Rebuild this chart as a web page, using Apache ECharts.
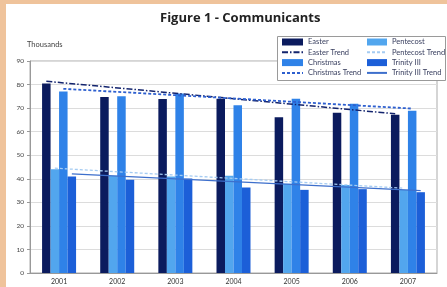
<!DOCTYPE html>
<html>
<head>
<meta charset="utf-8">
<title>Figure 1 - Communicants</title>
<script src="https://cdn.jsdelivr.net/npm/echarts@6/dist/echarts.min.js"></script>
<style>
html,body{margin:0;padding:0;background:#fff;}
#main{width:447px;height:287px;}
</style>
</head>
<body>
<div id="main"></div>
<script>
// 数据
var years = ['2001', '2002', '2003', '2004', '2005', '2006', '2007'];
var easter = [80.4, 74.7, 73.9, 74.0, 66.1, 68.0, 67.2];
var pentecost = [44.0, 41.3, 41.0, 41.3, 37.9, 37.4, 35.3];
var christmas = [77.0, 75.0, 76.2, 71.2, 74.0, 71.8, 68.9];
var trinity = [41.0, 39.6, 40.1, 36.3, 35.3, 35.6, 34.3];
// 趋势线 (2001, 2007)
var easterTrend = [81.4, 67.6];
var pentecostTrend = [44.5, 36.0];
var christmasTrend = [78.2, 69.8];
var trinityTrend = [42.1, 35.0];
var yTicks = [0, 10, 20, 30, 40, 50, 60, 70, 80, 90];

var gridL = 30, gridR = 10, barW = 8.5;
var catW = (447 - gridL - gridR) / years.length;

// 趋势线放在对应柱子的中心
function trend(vals, slot) {
    var off = (slot - 1.5) * barW / catW;
    return [[0 + off, vals[0]], [years.length - 1 + off, vals[1]]];
}

// 图例: 线不要画圆点, 柱子用直角方块
function lineItem(name) {
    return {name: name, itemStyle: {opacity: 0}};
}
function barItem(name) {
    return {name: name, icon: 'rect'};
}

var legendText = {fontSize: 7.5, lineHeight: 10, color: '#3a4060', fontFamily: 'Lato'};

var option = {
    animation: false,
    backgroundColor: '#fff',
    textStyle: {fontFamily: 'Lato'},
    title: {
        text: 'Figure 1 - Communicants',
        left: 160,
        top: 12,
        padding: 0,
        textStyle: {fontSize: 13, fontWeight: 'bold', color: '#222', fontFamily: 'Open Sans'}
    },
    graphic: [
        {type: 'rect', left: 0, top: 0, shape: {width: 447, height: 4}, style: {fill: '#EFC39B'}, z: 100},
        {type: 'rect', left: 0, top: 0, shape: {width: 6, height: 287}, style: {fill: '#EFC39B'}, z: 100},
        {type: 'text', left: 27, top: 41, style: {text: 'Thousands', fontSize: 7.5, fill: '#444', fontFamily: 'Lato'}},
        {type: 'rect', left: 277, top: 36, z: 50,
            shape: {width: 168, height: 44},
            style: {fill: '#fff', stroke: '#9a9a9a', lineWidth: 1}}
    ],
    legend: [{
        orient: 'vertical',
        left: 281, top: 37, padding: 0,
        itemWidth: 21, itemHeight: 7, itemGap: 0.3,
        textStyle: legendText,
        z: 60,
        data: [barItem('Easter'), lineItem('Easter Trend'), barItem('Christmas'), lineItem('Christmas Trend')]
    }, {
        orient: 'vertical',
        left: 366, top: 37, padding: 0,
        itemWidth: 20, itemHeight: 7, itemGap: 0.3,
        textStyle: legendText,
        z: 60,
        data: [barItem('Pentecost'), lineItem('Pentecost Trend'), barItem('Trinity III'), lineItem('Trinity III Trend')]
    }],
    grid: {
        left: gridL, right: gridR, top: 61, bottom: 14,
        show: true, borderColor: '#ababab', borderWidth: 1
    },
    xAxis: [{
        type: 'category',
        data: years,
        axisLine: {onZero: false, lineStyle: {color: '#999'}},
        axisTick: {show: false},
        axisLabel: {fontSize: 7, color: '#333', margin: 5}
    }, {
        type: 'value',
        min: -0.5, max: years.length - 0.5,
        show: false
    }],
    yAxis: {
        type: 'value',
        min: yTicks[0], max: yTicks[yTicks.length - 1], interval: 10,
        axisLine: {show: true, onZero: false, lineStyle: {color: '#999'}},
        axisTick: {show: true, length: 3, lineStyle: {color: '#999'}},
        axisLabel: {fontSize: 6.5, color: '#444', margin: 6},
        splitLine: {lineStyle: {color: '#dcdcdc'}}
    },
    series: [
        {name: 'Easter', type: 'bar', data: easter, barWidth: barW, barGap: '0%',
            itemStyle: {color: '#0B1B5E'}},
        {name: 'Pentecost', type: 'bar', data: pentecost, barWidth: barW, barGap: '0%',
            itemStyle: {color: '#52A6EE'}},
        {name: 'Christmas', type: 'bar', data: christmas, barWidth: barW, barGap: '0%',
            itemStyle: {color: '#2F82E8'}},
        {name: 'Trinity III', type: 'bar', data: trinity, barWidth: barW, barGap: '0%',
            itemStyle: {color: '#1C5FD8'}},
        {name: 'Easter Trend', type: 'line', xAxisIndex: 1, data: trend(easterTrend, 0),
            symbol: 'none', z: 5,
            lineStyle: {color: '#13246E', width: 1.5, type: [6, 2, 1.5, 2]}},
        {name: 'Pentecost Trend', type: 'line', xAxisIndex: 1, data: trend(pentecostTrend, 1),
            symbol: 'none', z: 5,
            lineStyle: {color: '#A4CBF2', width: 1.3, type: [3, 2]}},
        {name: 'Christmas Trend', type: 'line', xAxisIndex: 1, data: trend(christmasTrend, 2),
            symbol: 'none', z: 5,
            lineStyle: {color: '#2D5FCF', width: 1.8, type: [3, 2]}},
        {name: 'Trinity III Trend', type: 'line', xAxisIndex: 1, data: trend(trinityTrend, 3),
            symbol: 'none', z: 5,
            lineStyle: {color: '#3D6FCC', width: 1.3}}
    ]
};

// 初始化图表
var myChart = echarts.init(document.getElementById('main'));
myChart.setOption(option);
</script>
</body>
</html>
